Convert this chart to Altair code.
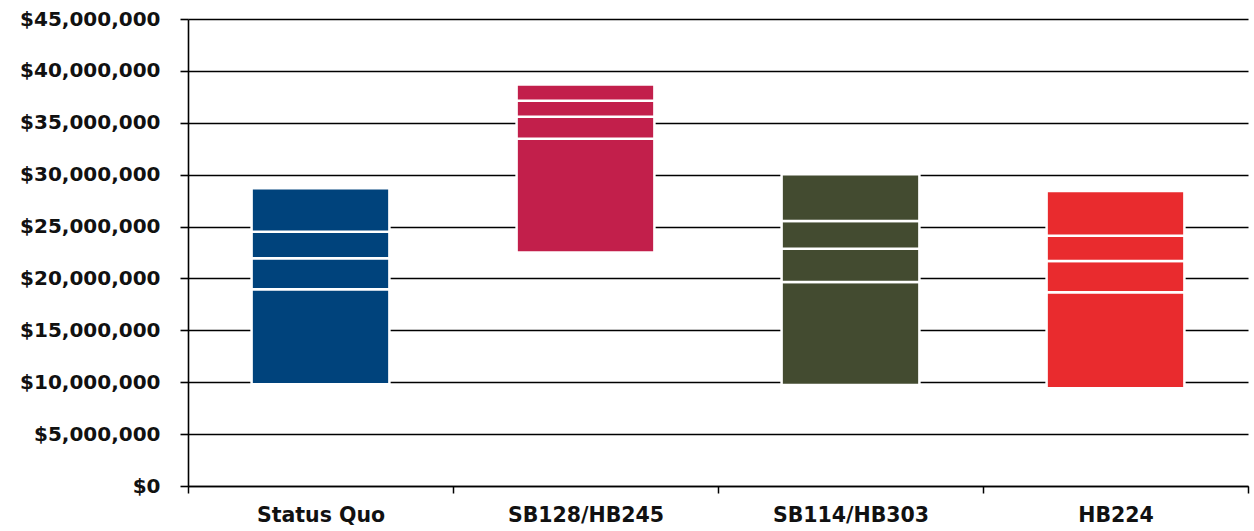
import altair as alt
import pandas as pd

# Bill scenarios along the x axis
categories = ["Status Quo", "SB128/HB245", "SB114/HB303", "HB224"]
bar_colors = ["#00437c", "#c21f4b", "#434b30", "#e92b2e"]

# Floating stacked bars: floor of each bar, then the height of each block (dollars)
floor_values = [9_800_000, 22_510_000, 9_730_000, 9_410_000]
block_1 = [9_150_000, 10_950_000, 9_920_000, 9_250_000]
block_2 = [2_990_000, 2_120_000, 3_210_000, 3_020_000]
block_3 = [2_560_000, 1_540_000, 2_670_000, 2_430_000]
block_4 = [4_180_000, 1_580_000, 4_500_000, 4_310_000]

rows = []
for i, cat in enumerate(categories):
    low = floor_values[i]
    for level, blocks in enumerate([block_1, block_2, block_3, block_4], start=1):
        high = low + blocks[i]
        rows.append({"category": cat, "level": level, "low": low, "high": high})
        low = high
df = pd.DataFrame(rows)

x_enc = alt.X(
    "category:N",
    sort=categories,
    scale=alt.Scale(paddingInner=0, paddingOuter=0),
    axis=alt.Axis(
        title=None,
        labelAngle=0,
        tickBand="extent",
        tickSize=7,
        tickColor="#000000",
        tickWidth=1.5,
        domainColor="#000000",
        domainWidth=1.5,
        labelFont="DejaVu Sans",
        labelFontSize=20.5,
        labelFontWeight="bold",
        labelColor="#111111",
        labelPadding=12,
        grid=False,
    ),
)

y_enc = alt.Y(
    "low:Q",
    scale=alt.Scale(domain=[0, 45_000_000], nice=False),
    axis=alt.Axis(
        title=None,
        values=list(range(0, 45_000_001, 5_000_000)),
        format="$,.0f",
        grid=True,
        gridColor="#000000",
        gridWidth=1.6,
        gridOpacity=1,
        domainColor="#000000",
        domainWidth=1.6,
        tickColor="#000000",
        tickWidth=1.6,
        tickSize=8,
        labelFont="DejaVu Sans",
        labelFontSize=20,
        labelFontWeight="bold",
        labelColor="#111111",
        labelPadding=20,
    ),
)

bars = alt.Chart(df).mark_bar(
    stroke="white", strokeWidth=2.5, width=alt.RelativeBandSize(0.52)
).encode(
    x=x_enc,
    y=y_enc,
    y2="high:Q",
    color=alt.Color(
        "category:N",
        scale=alt.Scale(domain=categories, range=bar_colors),
        legend=None,
    ),
)

chart = bars.properties(
    width=1060,
    height=467,
    autosize=alt.AutoSizeParams(type="none"),
    padding={"left": 188, "top": 19, "right": 6, "bottom": 45},
    background="white",
).configure_view(stroke=None)

chart.save("out.html", embed_options={"renderer": "svg", "actions": False})
